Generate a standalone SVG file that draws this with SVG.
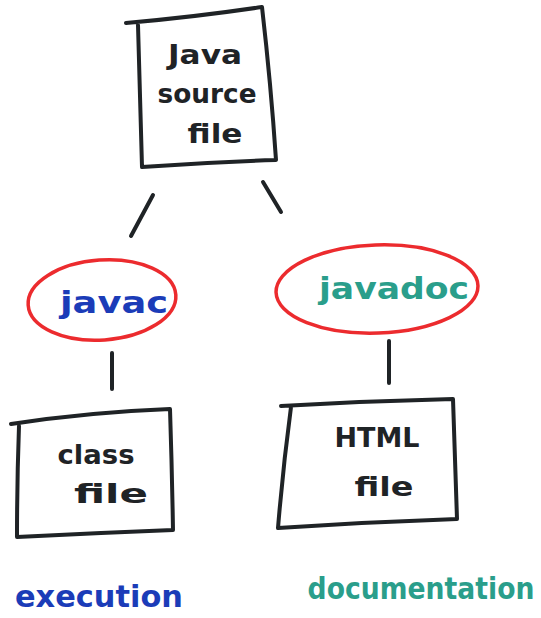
<svg xmlns="http://www.w3.org/2000/svg" width="541" height="618" viewBox="0 0 541 618">
<style>
.ink{fill:none;stroke:#1f2326;stroke-width:4;stroke-linecap:round;stroke-linejoin:round}
.oval{fill:none;stroke:#ec2b2e;stroke-width:3.5}
.t{font-family:"DejaVu Sans","Liberation Sans",sans-serif;text-anchor:middle;font-weight:bold}
.blk{fill:#1f2326;font-size:27px}
.blue{fill:#1b3cb8}
.teal{fill:#2a9e8b}
</style>
<rect width="541" height="618" fill="#ffffff"/>
<g id="connectors">
<path class="ink" d="M153,195 L131,236"/>
<path class="ink" d="M263,182 L281,212"/>
<path class="ink" d="M112,353 L112,389"/>
<path class="ink" d="M389,341 L389,383"/>
</g>
<g id="java-source-file">
<path class="ink" d="M126,23 Q195,17 262,7 Q271,85 276,160 Q210,162 142,167 Q140,95 138,25"/>
<text class="t blk" x="205" y="64" textLength="74" lengthAdjust="spacingAndGlyphs">Java</text>
<text class="t blk" x="207" y="103" textLength="99" lengthAdjust="spacingAndGlyphs">source</text>
<text class="t blk" x="215" y="143" textLength="55" lengthAdjust="spacingAndGlyphs">file</text>
</g>
<g id="javac">
<ellipse class="oval" cx="102" cy="300" rx="74" ry="40" transform="rotate(-4 102 300)"/>
<text class="t blue" x="114" y="313" font-size="31" textLength="108" lengthAdjust="spacingAndGlyphs">javac</text>
</g>
<g id="javadoc">
<ellipse class="oval" cx="377" cy="289" rx="101" ry="44" transform="rotate(-2 377 289)"/>
<text class="t teal" x="394" y="299" font-size="31" textLength="150" lengthAdjust="spacingAndGlyphs">javadoc</text>
</g>
<g id="class-file">
<path class="ink" d="M11,424 Q90,412 170,409 Q172,470 173,530 Q95,533 17,537 Q17,480 19,426"/>
<text class="t blk" x="96" y="464" textLength="77" lengthAdjust="spacingAndGlyphs">class</text>
<text class="t blk" x="111" y="503" textLength="74" lengthAdjust="spacingAndGlyphs">file</text>
</g>
<g id="html-file">
<path class="ink" d="M281,406 Q367,401 453,399 Q455,460 457,519 Q368,522 278,528 Q283,467 291,407"/>
<text class="t blk" x="377" y="447" font-size="25" textLength="85" lengthAdjust="spacingAndGlyphs">HTML</text>
<text class="t blk" x="384" y="496" textLength="59" lengthAdjust="spacingAndGlyphs">file</text>
</g>
<g id="labels">
<text class="t blue" x="99" y="607" font-size="31" textLength="168" lengthAdjust="spacingAndGlyphs">execution</text>
<text class="t teal" transform="translate(421,599) scale(0.86,1)" x="0" y="0" font-size="31">documentation</text>
</g>
</svg>
